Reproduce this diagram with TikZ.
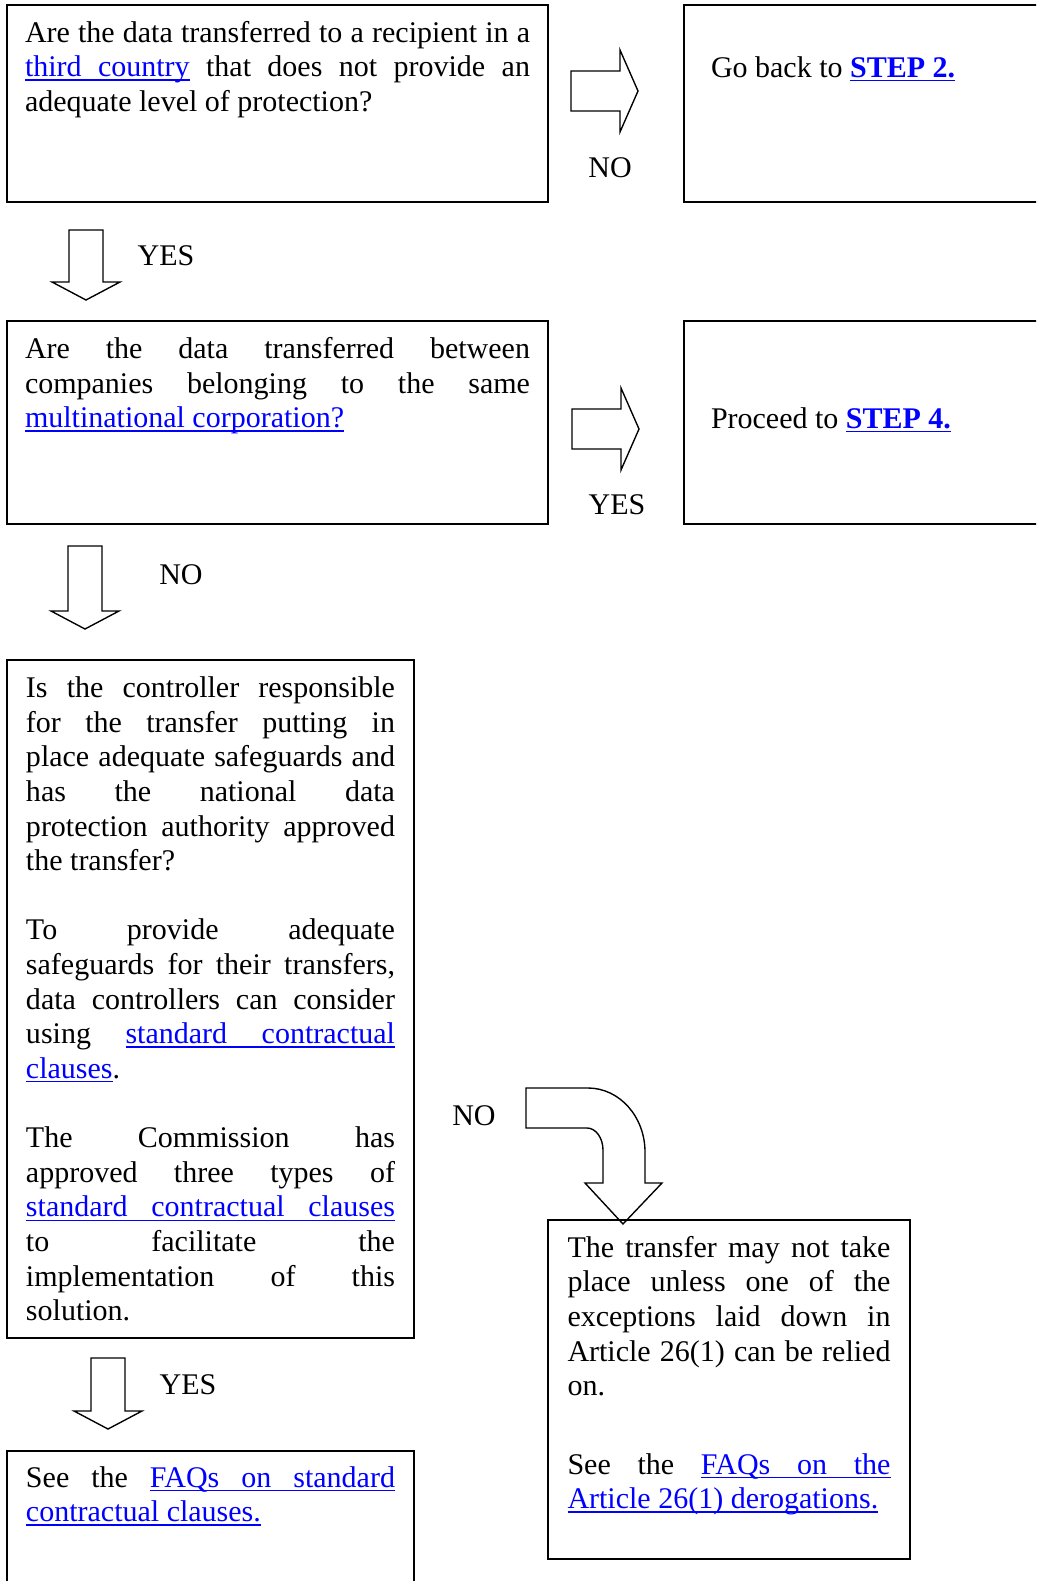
\documentclass[tikz,border=0pt]{standalone}
\usepackage{fontspec}
\setmainfont{Liberation Serif}
\usepackage{tikz}
\usetikzlibrary{calc}

% underlined links, with the underline running through stretched spaces
\newdimen\uldp \uldp=1.6pt
\newdimen\ulth \ulth=0.55pt
\def\lnkstop{}
\def\ulword#1{\setbox0\hbox{#1}\rlap{\rule[-\uldp]{\wd0}{\ulth}}\box0}
\def\ulspace{\leaders\hrule height\dimexpr\ulth-\uldp\relax depth\uldp
  \hskip\fontdimen2\font plus\fontdimen3\font minus\fontdimen4\font}
\def\lnkloop#1 #2\lnkstop{\ulword{#1}\ifx\relax#2\relax\else\ulspace\lnkloop#2\lnkstop\fi}
\newcommand{\lnk}[1]{{\color{blue}\lnkloop#1 \lnkstop}}
\newcommand{\steplnk}[1]{{\color{blue}\bfseries\lnkloop#1 \lnkstop}}

\tikzset{
  stepbox/.style={draw, line width=0.8pt, anchor=north west, inner ysep=0pt,
    outer sep=0pt, align=justify},
  blockarrow/.style={draw, line width=0.55pt, line join=miter},
  lbl/.style={inner sep=0pt},
  rarrow/.pic={\draw[blockarrow] (0,-20) -- (49,-20) -- (49,-41) -- (67,0)
    -- (49,41) -- (49,20) -- (0,20) -- cycle;},
  darrow/.pic={\draw[blockarrow] (-17,0) -- (-17,#1-18) -- (-34,#1-18) -- (0,#1)
    -- (34,#1-18) -- (17,#1-18) -- (17,0) -- cycle;}
}

\begin{document}
\begin{tikzpicture}[x=0.4pt, y=-0.4pt, font=\fontsize{12pt}{13.85pt}\selectfont]
\useasboundingbox (0,0) rectangle (1036,1581);
\clip (0,0) rectangle (1036,1581);

% First question and its NO branch
\node[stepbox, inner xsep=7.2pt, text width=202pt, text height=14.8pt, text depth=64pt] (q1) at (7,5)
  {Are the data transferred to a recipient in a\linebreak \lnk{third country} that does not provide an\linebreak adequate level of protection?};
\node[stepbox, inner xsep=10.8pt, text width=140pt, text height=28.8pt, text depth=50pt] (back) at (684,5)
  {Go back to \steplnk{STEP 2.}};
\pic at ($(q1.north east)+(23,86)$) {rarrow};
\node[lbl] (no1) at ($(q1.north east)+(62,163)$) {NO};

% YES down to second question
\pic at ($(q1.south west)+(79,28)$) {darrow=70};
\node[lbl] (yes1) at ($(q1.south west)+(159,54)$) {YES};

% Second question
\node[stepbox, inner xsep=7.2pt, text width=202pt, text height=15pt, text depth=66.2pt] (q2) at (7,321)
  {Are the data transferred between\linebreak companies belonging to the same\linebreak \lnk{multinational corporation?}};
\node[stepbox, inner xsep=10.8pt, text width=140pt, text height=42.8pt, text depth=38.4pt] (proceed) at (684,321)
  {Proceed to \steplnk{STEP 4.}};
\pic at ($(q2.north east)+(24,108)$) {rarrow};
\node[lbl] (yes2) at ($(q2.north east)+(69,184)$) {YES};

% NO down to safeguards question
\pic at ($(q2.south west)+(78,22)$) {darrow=83};
\node[lbl] (no2) at ($(q2.south west)+(174,51)$) {NO};

\node[stepbox, inner xsep=7.6pt, text width=147.6pt, text height=15pt, text depth=256.2pt] (q3) at (7,660)
  {Is the controller responsible\linebreak for the transfer putting in\linebreak place adequate safeguards and\linebreak has the national data\linebreak protection authority approved\linebreak the transfer?\par\vspace{13.85pt}%
   To provide adequate\linebreak safeguards for their transfers,\linebreak data controllers can consider\linebreak using \lnk{standard contractual}\linebreak \lnk{clauses}.\par\vspace{13.85pt}%
   The Commission has\linebreak approved three types of\linebreak \lnk{standard contractual clauses}\linebreak to facilitate the\linebreak implementation of this\linebreak solution.};

% YES: standard contractual clauses
\pic at ($(q3.south west)+(101,20)$) {darrow=71};
\node[lbl] (yes3) at ($(q3.south west)+(181,47)$) {YES};
\node[stepbox, inner xsep=7.6pt, text width=147.6pt, text height=14.4pt, text depth=80pt] (faq) at (7,1451)
  {See the \lnk{FAQs on standard}\linebreak \lnk{contractual clauses.}};

% NO: derogations
\node[stepbox, inner xsep=7.8pt, text width=129.2pt, text height=14.9pt, text depth=120.7pt] (nogo) at (548,1220)
  {The transfer may not take\linebreak place unless one of the\linebreak exceptions laid down in\linebreak Article 26(1) can be relied\linebreak on.\par\vspace{17.5pt}%
   See the \lnk{FAQs on the}\linebreak \lnk{Article 26(1) derogations.}};
\begin{scope}[shift={(nogo.north west)}]
\draw[blockarrow] (-22,-132) -- (40,-132) .. controls (71.5,-132) and (97,-103.3) .. (97,-68)
  -- (97,-37) -- (114,-37) -- (75,4) -- (37,-37) -- (55,-37) -- (55,-70)
  .. controls (55,-82.1) and (47.8,-92) .. (39,-92) -- (-22,-92) -- cycle;
\end{scope}
\node[lbl] (no3) at ($(nogo.north west)+(-74,-104)$) {NO};

\end{tikzpicture}
\end{document}
